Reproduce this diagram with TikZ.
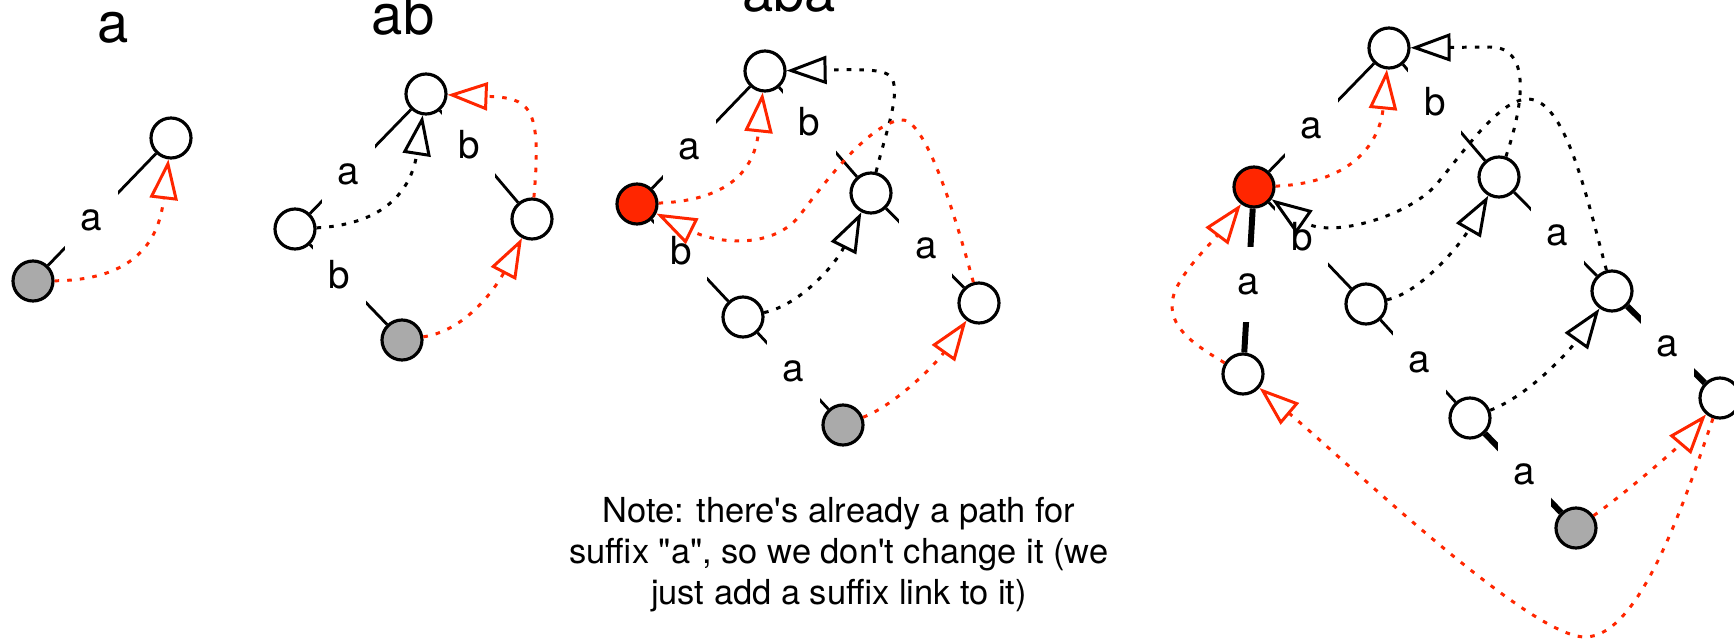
\documentclass[tikz,border=0pt]{standalone}
\usepackage{fontspec}
\setmainfont{TeX Gyre Heros}
\usetikzlibrary{arrows.meta,backgrounds}

\definecolor{linkred}{RGB}{255,38,0}
\definecolor{nodegray}{RGB}{170,170,170}

\begin{document}
\begin{tikzpicture}[
        state/.style = {circle, draw=black, line width=0.9pt, fill=white, minimum size=0.4cm, inner sep=0pt},
        fresh/.style = {state, fill=linkred},
        last/.style = {state, fill=nodegray},
        edge/.style = {line width=0.8pt},
        newedge/.style = {line width=1.7pt},
        lbl/.style = {fill=white, minimum width=0.53cm, minimum height=0.75cm, inner sep=0pt, font=\fontsize{11}{13}\selectfont},
        link/.style = {line width=0.85pt, dash pattern=on 1.3pt off 2.3pt, -{Triangle[open, length=0.40cm, width=0.28cm]}},
        newlink/.style = {link, draw=linkred},
        title/.style = {anchor=base, font=\fontsize{16}{19}\selectfont},
        note/.style = {anchor=north, align=center, inner sep=0pt, font=\fontsize{9.8}{11.6}\selectfont}
    ]
    \useasboundingbox (0,0) rectangle (17.34,-6.44);

    % ================= STEP 1: a =================
    \node[title] (t1) at (1.13,-0.43) {a};
    %
    \node[state] (r1) at (1.71,-1.38) {};
    \node[last] (a1) at (0.33,-2.81) {};
    %
    \begin{pgfonlayer}{background}
    \draw[edge] (r1) -- node[lbl, pos=0.60] {a} (a1);
    \end{pgfonlayer}
    \draw[newlink] (a1) .. controls (1.45,-2.80) and (1.60,-2.30) .. (r1);

    % ================= STEP 2: ab =================
    \node[title] (t2) at (4.03,-0.35) {ab};
    %
    \node[state] (r2) at (4.26,-0.94) {};
    \node[state] (a2) at (2.95,-2.29) {};
    \node[state] (b2) at (5.32,-2.19) {};
    \node[last] (ab2) at (4.02,-3.40) {};
    %
    \begin{pgfonlayer}{background}
    \draw[edge] (r2) -- node[lbl, pos=0.62] {a} (a2);
    \draw[edge] (r2) -- node[lbl, pos=0.37] {b} (b2);
    \draw[edge] (a2) -- node[lbl, pos=0.38] {b} (ab2);
    \end{pgfonlayer}
    \draw[link] (a2) .. controls (3.90,-2.24) and (4.12,-1.85) .. (r2);
    \draw[newlink] (ab2) .. controls (4.70,-3.30) and (5.00,-2.80) .. (b2);
    \draw[newlink] (b2) .. controls (5.42,-1.05) and (5.30,-0.98) .. (r2);

    % ================= STEP 3: aba =================
    \node[title] (t3) at (7.89,-0.12) {aba};
    %
    \node[state] (r3) at (7.65,-0.71) {};
    \node[fresh] (a3) at (6.37,-2.04) {};
    \node[state] (b3) at (8.71,-1.93) {};
    \node[state] (ab3) at (7.43,-3.17) {};
    \node[state] (ba3) at (9.79,-3.03) {};
    \node[last] (aba3) at (8.43,-4.25) {};
    %
    \begin{pgfonlayer}{background}
    \draw[edge] (r3) -- node[lbl, pos=0.62] {a} (a3);
    \draw[edge] (r3) -- node[lbl, pos=0.39] {b} (b3);
    \draw[edge] (a3) -- node[lbl, pos=0.38] {b} (ab3);
    \draw[edge] (b3) -- node[lbl, pos=0.51] {a} (ba3);
    \draw[edge] (ab3) -- node[lbl, pos=0.51] {a} (aba3);
    \end{pgfonlayer}
    \draw[link] (b3) .. controls (8.85,-1.35) and (8.97,-1.05) .. (8.94,-0.85)
        .. controls (8.92,-0.70) and (8.80,-0.69) .. (r3);
    \draw[link] (ab3) .. controls (8.00,-3.05) and (8.35,-2.65) .. (b3);
    \draw[newlink] (a3) .. controls (7.35,-2.00) and (7.55,-1.65) .. (r3);
    \draw[newlink] (ba3) .. controls (9.55,-2.15) and (9.25,-1.15) .. (9.00,-1.20)
        .. controls (8.70,-1.25) and (8.30,-1.75) .. (8.00,-2.15)
        .. controls (7.75,-2.48) and (7.20,-2.45) .. (a3);
    \draw[newlink] (aba3) .. controls (8.95,-4.05) and (9.35,-3.65) .. (ba3);

    % note under step 3
    \node[note] (remark) at (8.39,-4.97) {Note: there\textquotesingle s already a path for\\
        suffix \textquotedbl a\textquotedbl, so we don\textquotesingle t change it (we\\
        just add a suffix link to it)};

    % ================= STEP 4: abaa =================
    \node[state] (r4) at (13.89,-0.48) {};
    \node[fresh] (a4) at (12.54,-1.87) {};
    \node[state] (b4) at (14.99,-1.77) {};
    \node[state] (ab4) at (13.66,-3.04) {};
    \node[state] (ba4) at (16.12,-2.91) {};
    \node[state] (aa4) at (12.43,-3.74) {};
    \node[state] (aba4) at (14.70,-4.18) {};
    \node[state] (baa4) at (17.20,-3.98) {};
    \node[last] (abaa4) at (15.76,-5.28) {};
    %
    \begin{pgfonlayer}{background}
    \draw[edge] (r4) -- node[lbl, pos=0.60] {a} (a4);
    \draw[edge] (r4) -- node[lbl, pos=0.39] {b} (b4);
    \draw[edge] (a4) -- node[lbl, pos=0.40] {b} (ab4);
    \draw[edge] (b4) -- node[lbl, pos=0.52] {a} (ba4);
    \draw[edge] (ab4) -- node[lbl, pos=0.52] {a} (aba4);
    % new transitions
    \draw[newedge] (a4) -- node[lbl, pos=0.53] {a} (aa4);
    \draw[newedge] (ba4) -- node[lbl, pos=0.52] {a} (baa4);
    \draw[newedge] (aba4) -- node[lbl, pos=0.52] {a} (abaa4);
    \end{pgfonlayer}
    \draw[link] (b4) .. controls (15.25,-1.00) and (15.30,-0.47) .. (14.90,-0.47) -- (r4);
    \draw[link] (ab4) .. controls (14.20,-2.93) and (14.60,-2.45) .. (b4);
    \draw[link] (ba4) .. controls (15.85,-1.90) and (15.65,-1.00) .. (15.28,-0.99)
        .. controls (15.00,-0.99) and (14.65,-1.50) .. (14.40,-1.80)
        .. controls (14.15,-2.15) and (13.30,-2.40) .. (a4);
    \draw[link] (aba4) .. controls (15.30,-3.95) and (15.70,-3.50) .. (ba4);
    \draw[newlink] (a4) .. controls (13.55,-1.83) and (13.80,-1.40) .. (r4);
    \draw[newlink] (aa4) .. controls (11.95,-3.45) and (11.72,-3.30) .. (11.72,-3.05)
        .. controls (11.72,-2.80) and (12.10,-2.45) .. (a4);
    \draw[newlink] (baa4) .. controls (16.85,-5.00) and (16.40,-6.37) .. (15.85,-6.37)
        .. controls (15.30,-6.37) and (13.50,-4.65) .. (aa4);
    \draw[newlink] (abaa4) .. controls (16.30,-4.90) and (16.80,-4.45) .. (baa4);

\end{tikzpicture}
\end{document}
